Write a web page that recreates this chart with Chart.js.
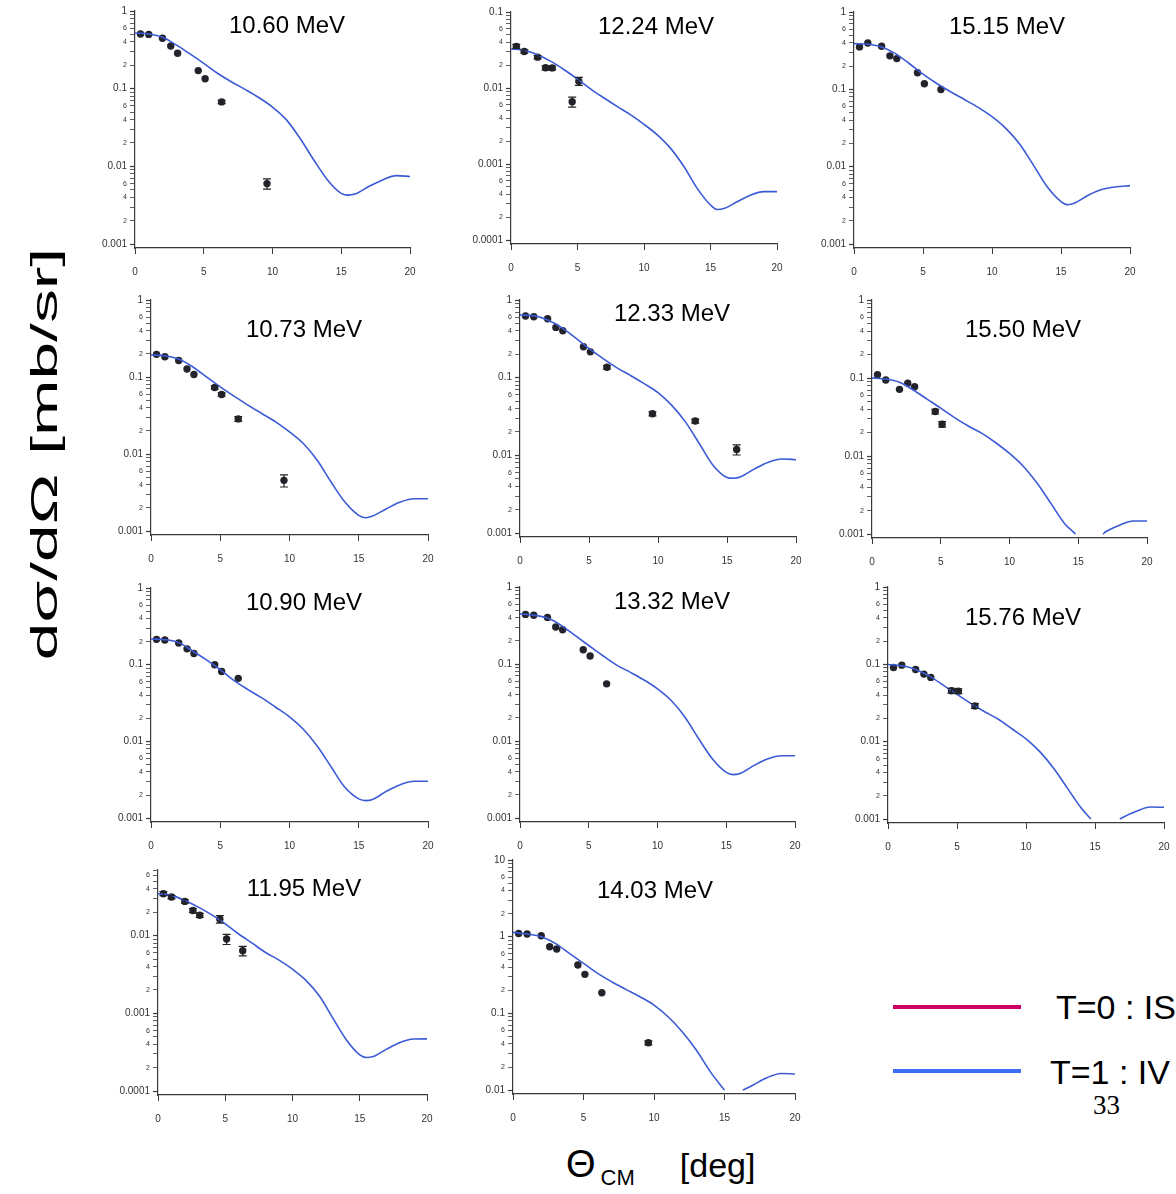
<!DOCTYPE html>
<html>
<head>
<meta charset="utf-8">
<script src="https://cdn.jsdelivr.net/npm/chart.js@4"></script>
<style>
  body { margin: 0; width: 1176px; height: 1194px; position: relative; overflow: hidden; background: #fff;
         font-family: 'Liberation Sans', Arial, sans-serif; color: #000; }
  canvas { position: absolute; }
  .lab { position: absolute; white-space: nowrap; }
  .title { position: absolute; font-size: 24px; transform: translate(-50%, -50%); white-space: nowrap; }
</style>
</head>
<body>

<script>
// measured angles of the data points (deg, CM)
const angles = [0.4, 1.0, 2.0, 2.6, 3.1, 4.6, 5.1, 6.3, 9.6, 12.7, 15.7];
// angles where the calculated curve was read
const curveAngles = [0, 1, 2, 3, 4, 5, 6, 7, 8, 9, 10, 11, 12, 13, 14, 15, 15.5, 16, 17, 18, 19, 20];

const energies = ['10.60 MeV', '12.24 MeV', '15.15 MeV', '10.73 MeV', '12.33 MeV', '15.50 MeV',
                  '10.90 MeV', '13.32 MeV', '15.76 MeV', '11.95 MeV', '14.03 MeV'];

// 10.60 MeV
const pts1060 = [0.506, 0.50, 0.445, 0.355, 0.286, 0.171, 0.134, 0.0676, 0.0060];
const err1060 = [0, 0, 0, 0, 0, 0, 0, 0.05, 0.15];
const fit1060 = [0.52, 0.505, 0.458, 0.366, 0.28, 0.212, 0.158, 0.123, 0.098, 0.077, 0.058, 0.040, 0.023, 0.0121, 0.0067, 0.0045, 0.00426, 0.0044, 0.0055, 0.0067, 0.0076, 0.0074];

// 12.24 MeV
const pts1224 = [0.0353, 0.0303, 0.0255, 0.0185, 0.0184, 0.0066, 0.0123];
const err1224 = [0.06, 0.05, 0.05, 0.06, 0.06, 0.15, 0.12];
const fit1224 = [0.0326, 0.0314, 0.0274, 0.0224, 0.0174, 0.0131, 0.0097, 0.0074, 0.0057, 0.00444, 0.00334, 0.00242, 0.00161, 0.00093, 0.00048, 0.00029, 0.000253, 0.00026, 0.00032, 0.00039, 0.000434, 0.000434];

// 15.15 MeV
const pts1515 = [0.354, 0.398, 0.361, 0.271, 0.25, 0.164, 0.118, 0.0997];
const err1515 = [0, 0, 0, 0, 0, 0, 0, 0];
const fit1515 = [0.39, 0.383, 0.354, 0.29, 0.216, 0.157, 0.119, 0.093, 0.074, 0.0585, 0.0443, 0.0313, 0.0197, 0.0105, 0.0055, 0.00355, 0.00323, 0.0034, 0.0043, 0.0051, 0.0055, 0.0057];

// 10.73 MeV
const pts1073 = [0.197, 0.183, 0.164, 0.127, 0.108, 0.0731, 0.0593, 0.0286, 0.00456];
const err1073 = [0, 0, 0, 0, 0, 0.05, 0.05, 0.07, 0.18];
const fit1073 = [0.193, 0.189, 0.171, 0.136, 0.1007, 0.0746, 0.0565, 0.0431, 0.0336, 0.0262, 0.0194, 0.0137, 0.0083, 0.00434, 0.00238, 0.0016, 0.00149, 0.00157, 0.00195, 0.00238, 0.00263, 0.00263];

// 12.33 MeV
const pts1233 = [0.621, 0.61, 0.574, 0.444, 0.402, 0.25, 0.215, 0.136, 0.0344, 0.0277, 0.0119];
const err1233 = [0, 0, 0, 0, 0, 0, 0, 0.05, 0.06, 0.06, 0.15];
const fit1233 = [0.64, 0.63, 0.552, 0.444, 0.327, 0.238, 0.177, 0.135, 0.107, 0.0839, 0.0643, 0.044, 0.0268, 0.0141, 0.0074, 0.0052, 0.00507, 0.0053, 0.0067, 0.00817, 0.0090, 0.0088];

// 15.50 MeV (curve dips below the axis)
const pts1550 = [0.11, 0.0944, 0.0716, 0.0856, 0.0775, 0.0372, 0.0255];
const err1550 = [0, 0, 0, 0, 0, 0.07, 0.08];
const fitX1550 = [0, 1, 2, 3, 4, 5, 6, 7, 8, 9, 10, 11, 12, 13, 14, 14.8, 15.8, 16.8, 17, 18, 19, 20];
const fit1550 = [0.1003, 0.097, 0.088, 0.0702, 0.0537, 0.0411, 0.0311, 0.0243, 0.0195, 0.0148, 0.0108, 0.0074, 0.0045, 0.00249, 0.00137, 0.001, null, 0.001, 0.00107, 0.0013, 0.00147, 0.00147];

// 10.90 MeV
const pts1090 = [0.214, 0.21, 0.192, 0.161, 0.14, 0.0997, 0.0817, 0.0664];
const err1090 = [0, 0, 0, 0, 0, 0, 0, 0];
const fit1090 = [0.216, 0.212, 0.194, 0.151, 0.1157, 0.086, 0.0619, 0.0473, 0.0369, 0.0279, 0.0209, 0.0144, 0.0087, 0.00467, 0.00252, 0.00178, 0.00169, 0.00175, 0.00224, 0.00273, 0.00302, 0.00302];

// 13.32 MeV
const pts1332 = [0.441, 0.43, 0.403, 0.302, 0.279, 0.153, 0.127, 0.0553];
const err1332 = [0, 0, 0, 0, 0, 0, 0, 0];
const fit1332 = [0.45, 0.43, 0.395, 0.318, 0.235, 0.174, 0.129, 0.0977, 0.0785, 0.0624, 0.0477, 0.0336, 0.0204, 0.0107, 0.00586, 0.00393, 0.00367, 0.0038, 0.0048, 0.00586, 0.00646, 0.00646];

// 15.76 MeV (curve dips below the axis)
const pts1576 = [0.0912, 0.0977, 0.086, 0.0748, 0.0678, 0.0456, 0.0451, 0.029];
const err1576 = [0, 0, 0, 0, 0, 0.07, 0.07, 0.07];
const fitX1576 = [0, 1, 2, 3, 4, 5, 6, 7, 8, 9, 10, 11, 12, 13, 14, 14.7, 15.7, 16.8, 17, 18, 19, 20];
const fit1576 = [0.0997, 0.096, 0.086, 0.0705, 0.054, 0.0409, 0.0313, 0.0244, 0.0195, 0.0146, 0.0109, 0.00745, 0.00454, 0.00251, 0.00139, 0.001, null, 0.001, 0.00105, 0.00126, 0.00143, 0.00142];

// 11.95 MeV
const pts1195 = [0.0347, 0.0314, 0.0276, 0.0211, 0.0183, 0.0163, 0.00905, 0.0064];
const err1195 = [0.06, 0.05, 0.05, 0.06, 0.06, 0.11, 0.15, 0.14];
const fit1195 = [0.0347, 0.033, 0.0284, 0.0233, 0.0185, 0.0142, 0.0105, 0.0080, 0.00608, 0.00484, 0.0037, 0.00266, 0.00167, 0.00087, 0.000458, 0.000292, 0.00027, 0.000278, 0.000347, 0.000423, 0.000467, 0.00047];

// 14.03 MeV (curve dips below the axis)
const pts1403 = [1.10, 1.084, 1.03, 0.741, 0.69, 0.427, 0.323, 0.186, 0.0414];
const err1403 = [0, 0, 0, 0, 0, 0, 0, 0, 0.06];
const fitX1403 = [0, 1, 2, 3, 4, 5, 6, 7, 8, 9, 10, 11, 12, 13, 14, 15, 15.6, 16.3, 17, 18, 19, 20];
const fit1403 = [1.14, 1.084, 1.0, 0.819, 0.606, 0.449, 0.333, 0.259, 0.206, 0.165, 0.1285, 0.0905, 0.0577, 0.0333, 0.0173, 0.01, null, 0.01, 0.0116, 0.0145, 0.0165, 0.0162];

// y ranges (top / bottom of each log axis)
const yTops = [1, 0.1, 1, 1, 1, 1, 1, 1, 1, 0.07, 10];
const yBots = [0.001, 0.0001, 0.001, 0.001, 0.001, 0.001, 0.001, 0.001, 0.001, 0.0001, 0.01];
const xTicks = [0, 5, 10, 15, 20];

const series = [
  [pts1060, err1060, curveAngles, fit1060],
  [pts1224, err1224, curveAngles, fit1224],
  [pts1515, err1515, curveAngles, fit1515],
  [pts1073, err1073, curveAngles, fit1073],
  [pts1233, err1233, curveAngles, fit1233],
  [pts1550, err1550, fitX1550, fit1550],
  [pts1090, err1090, curveAngles, fit1090],
  [pts1332, err1332, curveAngles, fit1332],
  [pts1576, err1576, fitX1576, fit1576],
  [pts1195, err1195, curveAngles, fit1195],
  [pts1403, err1403, fitX1403, fit1403]
];

// layout: plot area [left, right, top, bottom] in page px, and title centre
const boxes = [
  [135, 410, 11, 248], [511, 777, 12, 244], [854, 1130, 12, 248],
  [151, 428, 300, 535], [520, 796, 300, 537], [872, 1147, 300, 538],
  [151, 428, 588, 822], [520, 795, 587, 822], [888, 1164, 587, 823],
  [158, 427, 870, 1095], [513, 795, 860, 1094]
];
const titlePos = [
  [287, 25], [656, 26], [1007, 26],
  [304, 329], [672, 313], [1023, 329],
  [304, 602], [672, 601], [1023, 617],
  [304, 888], [655, 890]
];

const AX = '#3a3a3a';
const PAD_L = 45, PAD_T = 10, PAD_R = 22, PAD_B = 36;

const errorBars = {
  id: 'errorBars',
  afterDatasetsDraw(chart) {
    const ds = chart.data.datasets[1];
    const errs = ds.errs;
    const xs = chart.scales.x, ys = chart.scales.y, ctx = chart.ctx;
    ctx.save();
    ctx.strokeStyle = '#222';
    ctx.lineWidth = 1.2;
    ds.data.forEach((p, i) => {
      const f = errs[i];
      if (!f) return;
      const px = xs.getPixelForValue(p.x);
      const y1 = ys.getPixelForValue(p.y * (1 + f));
      const y2 = ys.getPixelForValue(p.y * (1 - f));
      ctx.beginPath();
      ctx.moveTo(px, y1); ctx.lineTo(px, y2);
      ctx.moveTo(px - 4, y1); ctx.lineTo(px + 4, y1);
      ctx.moveTo(px - 4, y2); ctx.lineTo(px + 4, y2);
      ctx.stroke();
    });
    ctx.restore();
  }
};

function logTicks(top, bot) {
  const out = [];
  const k0 = Math.round(Math.log10(bot));
  const k1 = Math.floor(Math.log10(top) + 1e-9);
  for (let k = k0; k <= k1; k++) {
    const d = Math.pow(10, k);
    out.push({ value: d, major: true, m: 1 });
    for (let m = 2; m <= 9; m++) {
      if (m * d <= top * 1.0001) out.push({ value: m * d, major: false, m: m });
    }
  }
  return out;
}

energies.forEach((name, i) => {
  const [L, R, T, B] = boxes[i];
  const [pts, errs, fx, fy] = series[i];
  const cv = document.createElement('canvas');
  cv.width = R - L + PAD_L + PAD_R;
  cv.height = B - T + PAD_T + PAD_B;
  cv.style.left = (L - PAD_L) + 'px';
  cv.style.top = (T - PAD_T) + 'px';
  document.body.appendChild(cv);

  const t = document.createElement('div');
  t.className = 'title';
  t.textContent = name;
  t.style.left = titlePos[i][0] + 'px';
  t.style.top = titlePos[i][1] + 'px';
  document.body.appendChild(t);

  const top = yTops[i], bot = yBots[i];
  new Chart(cv, {
    type: 'scatter',
    data: {
      datasets: [{
        data: fx.map((x, j) => ({ x: x, y: fy[j] })),
        showLine: true,
        borderColor: '#3b5bd6',
        borderWidth: 1.6,
        pointRadius: 0,
        cubicInterpolationMode: 'monotone',
        spanGaps: false
      }, {
        data: pts.map((y, j) => ({ x: angles[j], y: y })),
        errs: errs,
        pointRadius: 3.7,
        pointBackgroundColor: '#23232b',
        pointBorderColor: '#23232b',
        pointBorderWidth: 0
      }]
    },
    options: {
      responsive: false,
      animation: false,
      layout: { padding: { left: 0, top: PAD_T, right: PAD_R, bottom: 0 } },
      plugins: { legend: { display: false }, tooltip: { enabled: false } },
      scales: {
        x: {
          type: 'linear', min: 0, max: 20,
          afterBuildTicks: s => { s.ticks = xTicks.map(v => ({ value: v })); },
          afterFit: s => { s.height = PAD_B; },
          grid: { drawOnChartArea: false, color: AX, tickLength: 6 },
          border: { color: AX, width: 1.2 },
          ticks: { color: '#333', padding: 12, font: { size: 10, family: 'Liberation Sans' }, maxRotation: 0 }
        },
        y: {
          type: 'logarithmic', min: bot * 0.89, max: top,
          afterBuildTicks: s => { s.ticks = logTicks(top, bot); },
          afterFit: s => { s.width = PAD_L; },
          grid: { drawOnChartArea: false, color: AX, tickLength: 5,
                  tickWidth: c => (c.tick && c.tick.major ? 1.2 : 0.8) },
          border: { color: AX, width: 1.2 },
          ticks: {
            autoSkip: false,
            color: '#333',
            padding: 3,
            font: c => ({ size: c.tick && c.tick.major ? 10 : 7, family: 'Liberation Sans' }),
            callback: (v, j, ticks) => {
              const tk = ticks[j];
              if (tk.major) return String(tk.value);
              return [2, 4, 6].includes(tk.m) ? String(tk.m) : '';
            }
          }
        }
      }
    },
    plugins: [errorBars]
  });
});
</script>

<div class="lab" id="ylab" style="left:45px; top:454px; font-size:36px; line-height:1;">dσ/dΩ [mb/sr]</div>

<div class="lab" style="left:566px; top:1145px; font-size:34px; line-height:1;"><span style="font-size:38px;">Θ</span><span style="font-size:22px; position:relative; top:8px; margin-left:5px;">CM</span><span style="margin-left:45px;">[deg]</span></div>

<div class="lab" style="left:893px; top:1005px; width:128px; height:4px; background:#cc0066;"></div>
<div class="lab" style="left:893px; top:1069px; width:128px; height:4px; background:#3d6df2;"></div>
<div class="lab" style="left:1056px; top:990px; font-size:34px; line-height:34px;">T=0 : IS</div>
<div class="lab" style="left:1050px; top:1055px; font-size:34px; line-height:34px;">T=1 : IV</div>
<div class="lab" style="left:1093px; top:1091px; font-size:27px; line-height:28px; font-family:'Liberation Serif', 'Times New Roman', serif;">33</div>

<script>
  const yl = document.getElementById('ylab');
  const s = 412 / yl.offsetWidth;
  yl.style.transform = 'translate(-50%, -50%) rotate(-90deg) scaleX(' + s.toFixed(3) + ')';
</script>
</body>
</html>
